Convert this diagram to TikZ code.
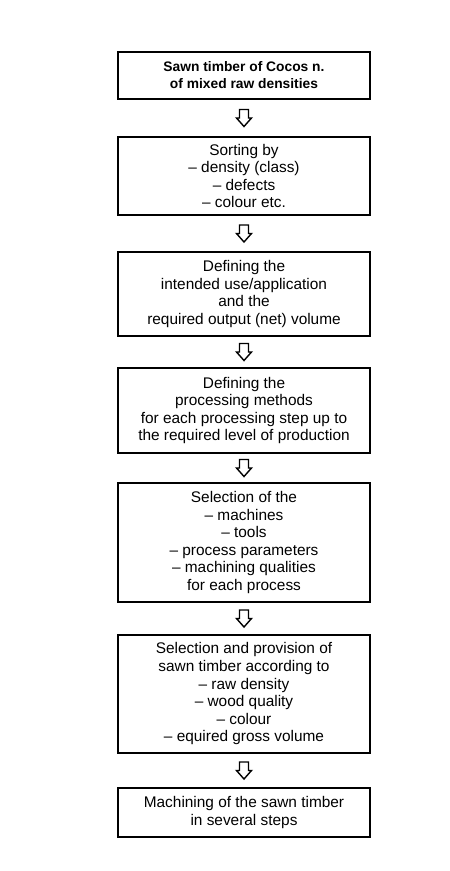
\documentclass[tikz,border=0pt]{standalone}
\usepackage{fontspec}
\setmainfont{Liberation Sans}
\begin{document}
\begin{tikzpicture}[x=1pt,y=-1pt,
  box/.style={draw, line width=1.8pt, minimum width=252pt, align=center,
    font=\fontsize{15.4}{17.6}\selectfont, inner sep=0pt},
  flowarrow/.style={draw, line width=1.4pt, fill=white, line join=miter},
  hollowarrow/.pic={\draw[flowarrow] (-4.5,-8.5) -- (4.5,-8.5) -- (4.5,0) -- (7.5,0) -- (0,8.5) -- (-7.5,0) -- (-4.5,0) -- cycle;}]
\useasboundingbox (0,0) rectangle (450,871);
\node[box, minimum height=47pt, font=\bfseries\fontsize{13.8}{17}\selectfont] (b1) at (244,75.5)
  {Sawn timber of Cocos n.\\of mixed raw densities};
\node[box, minimum height=78pt] (b2) at (244,176)
  {Sorting by\\– density (class)\\– defects\\– colour etc.};
\node[box, minimum height=84pt] (b3) at (244,294)
  {Defining the\\intended use/application\\and the\\required output (net) volume};
\node[box, minimum height=85pt] (b4) at (244,410.5)
  {Defining the\\processing methods\\for each processing step up to\\the required level of production};
\node[box, minimum height=119pt] (b5) at (244,542.5)
  {Selection of the\\– machines\\– tools\\– process parameters\\– machining qualities\\for each process};
\node[box, minimum height=118pt] (b6) at (244,694)
  {Selection and provision of\\sawn timber according to\\– raw density\\– wood quality\\– colour\\– equired gross volume};
\node[box, minimum height=49pt] (b7) at (244,812.5)
  {Machining of the sawn timber\\in several steps};
\foreach \a/\b in {b1/b2,b2/b3,b3/b4,b4/b5,b5/b6,b6/b7}{
  \path (\a.south) -- (\b.north) coordinate[midway] (m\a);
  \pic at (m\a) {hollowarrow};
}
\end{tikzpicture}
\end{document}
